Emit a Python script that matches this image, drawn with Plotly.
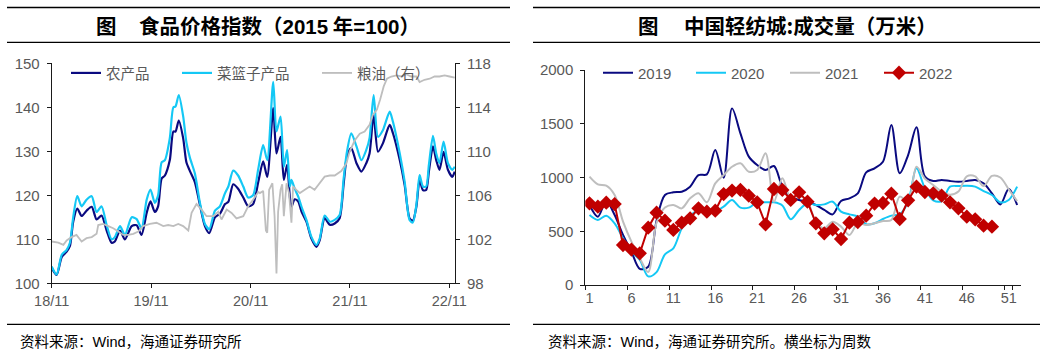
import plotly.graph_objects as go

W, H = 1057, 363

# ---------------- Left chart data: 食品价格指数 ----------------
food_dates = [
    "2018-11-01", "2018-11-19", "2018-12-08", "2018-12-26", "2019-01-07", "2019-01-19",
    "2019-02-03", "2019-02-19", "2019-03-09", "2019-03-28", "2019-04-15", "2019-05-03",
    "2019-05-22", "2019-06-09", "2019-06-21", "2019-07-10", "2019-07-28", "2019-08-22",
    "2019-09-09", "2019-09-27", "2019-10-16", "2019-10-30", "2019-11-15", "2019-11-27",
    "2019-12-10", "2019-12-22", "2020-01-09", "2020-01-22", "2020-01-30", "2020-02-11",
    "2020-02-27", "2020-03-10", "2020-03-23", "2020-04-10", "2020-04-28", "2020-05-17",
    "2020-06-02", "2020-06-23", "2020-07-11", "2020-07-30", "2020-08-11", "2020-08-29",
    "2020-09-16", "2020-10-05", "2020-10-23", "2020-11-10", "2020-11-29", "2020-12-17",
    "2021-01-01", "2021-01-23", "2021-02-04", "2021-02-19", "2021-03-03", "2021-03-15",
    "2021-03-25", "2021-03-31", "2021-04-12", "2021-04-25", "2021-05-07", "2021-05-25",
    "2021-06-12", "2021-07-01", "2021-07-13", "2021-07-31", "2021-08-19", "2021-09-06",
    "2021-09-24", "2021-10-09", "2021-10-21", "2021-11-06", "2021-11-25", "2021-12-13",
    "2021-12-31", "2022-01-12", "2022-01-27", "2022-02-12", "2022-03-02", "2022-03-27",
    "2022-04-08", "2022-05-03", "2022-05-21", "2022-06-08", "2022-06-20", "2022-07-03",
    "2022-07-15", "2022-07-27", "2022-08-08", "2022-08-18", "2022-09-02", "2022-09-14",
    "2022-09-26", "2022-10-11", "2022-10-27", "2022-11-12", "2022-11-21",
]
farm_products = [
    103.5, 101.9, 106.0, 107.2, 108.5, 114.0,
    117.0, 115.3, 116.5, 117.4, 114.5, 115.4,
    112.0, 109.2, 109.5, 112.0, 110.0, 113.0,
    113.2, 111.0, 116.0, 118.6, 116.2, 117.5,
    123.8, 124.5, 128.0, 134.5, 134.5, 137.0,
    133.0, 127.5, 125.5, 123.0, 118.0, 113.0,
    111.4, 115.0, 115.8, 118.0, 118.5, 122.5,
    121.5, 119.5, 117.5, 118.0, 123.0, 127.7,
    124.2, 139.8, 129.5, 133.3, 123.5, 126.9,
    119.7, 117.4, 119.1, 118.6, 116.3, 114.0,
    110.2, 108.3, 109.8, 114.8, 113.3, 113.6,
    114.8, 122.7, 128.8, 130.7, 127.3, 125.4,
    127.3, 129.5, 138.3, 129.9, 131.8, 136.0,
    134.1, 128.0, 122.3, 114.8, 114.2, 117.4,
    123.5, 121.2, 121.2, 125.4, 131.1, 128.0,
    125.8, 129.9, 125.8, 124.2, 125.4,
]
basket_products = [
    103.8, 102.0, 106.5, 107.6, 109.2, 115.0,
    119.8, 117.5, 119.0, 119.8, 116.2, 117.5,
    113.2, 110.0, 110.5, 113.0, 111.0, 115.0,
    114.6, 112.5, 119.0, 121.3, 118.3, 120.0,
    127.5, 128.0, 133.0, 140.0, 140.2, 142.8,
    138.0, 132.0, 128.5, 125.0, 118.5, 113.5,
    112.3, 116.5, 117.5, 120.5, 122.0, 125.6,
    124.5, 122.0, 119.5, 120.0, 126.0, 131.4,
    128.0, 145.8, 134.5, 137.9, 126.5, 130.3,
    122.0, 123.5, 121.5, 119.7, 117.4, 114.4,
    110.6, 108.7, 110.2, 115.4, 114.0, 114.4,
    115.5, 123.9, 129.9, 134.1, 131.1, 128.0,
    130.3, 133.0, 142.8, 133.3, 134.8, 139.0,
    136.7, 129.5, 123.1, 114.4, 113.8, 117.8,
    124.6, 122.0, 122.0, 126.9, 133.5, 129.5,
    127.3, 132.2, 127.3, 125.8, 126.5,
]
grain_dates = [
    "2018-11-01", "2018-11-25", "2018-12-14", "2018-12-26", "2019-01-13", "2019-01-31",
    "2019-02-19", "2019-03-09", "2019-03-28", "2019-04-15", "2019-04-21", "2019-05-09",
    "2019-05-28", "2019-06-15", "2019-07-04", "2019-07-22", "2019-08-09", "2019-08-28",
    "2019-09-15", "2019-10-03", "2019-10-28", "2019-11-21", "2019-12-16", "2020-01-03",
    "2020-01-22", "2020-02-09", "2020-02-27", "2020-03-17", "2020-03-29", "2020-04-16",
    "2020-05-05", "2020-05-23", "2020-06-17", "2020-07-05", "2020-07-17", "2020-08-05",
    "2020-08-23", "2020-09-10", "2020-10-05", "2020-10-23", "2020-11-10", "2020-11-29",
    "2020-12-05", "2020-12-17", "2020-12-27", "2021-01-01", "2021-01-08", "2021-01-20",
    "2021-01-28", "2021-02-04", "2021-02-10", "2021-02-19", "2021-02-25", "2021-03-03",
    "2021-03-13", "2021-03-22", "2021-03-31", "2021-04-06", "2021-04-18", "2021-05-01",
    "2021-05-19", "2021-06-06", "2021-06-24", "2021-07-13", "2021-07-31", "2021-08-19",
    "2021-09-06", "2021-09-30", "2021-10-19", "2021-10-31", "2021-11-19", "2021-12-07",
    "2021-12-25", "2022-01-12", "2022-01-24", "2022-02-08", "2022-02-20", "2022-03-05",
    "2022-03-17", "2022-04-02", "2022-04-21", "2022-05-09", "2022-05-27", "2022-06-14",
    "2022-07-03", "2022-07-15", "2022-08-02", "2022-08-21", "2022-09-08", "2022-09-26",
    "2022-10-15", "2022-11-02", "2022-11-21",
]
grain_oil = [
    101.8, 101.7, 101.5, 101.9, 102.2, 102.4,
    101.8, 102.1, 102.2, 102.5, 103.3, 103.4,
    103.2, 103.0, 102.7, 102.4, 102.4, 102.5,
    102.7, 103.2, 103.4, 103.5, 103.2, 103.3,
    103.2, 103.4, 103.2, 102.8, 104.4, 105.2,
    104.7, 104.1, 104.1, 104.5, 103.8, 104.7,
    104.4, 103.9, 104.1, 105.0, 105.6, 106.3,
    106.2, 106.4, 102.8, 102.6, 106.5, 107.1,
    104.1, 98.9, 104.5, 106.5, 107.0, 104.1,
    107.1, 106.2, 103.5, 106.8, 106.5, 106.2,
    106.5, 106.8, 106.5, 107.1, 107.7, 107.8,
    107.8, 108.2, 108.9, 110.0, 111.0, 111.6,
    111.8, 112.4, 113.3, 113.8, 114.7, 115.9,
    116.6, 116.8, 116.9, 116.8, 117.0, 116.8,
    116.8, 116.3, 116.5, 116.6, 116.8, 116.8,
    116.9, 116.8, 116.7,
]
left_tickvals = ["2018-11-01", "2019-11-01", "2020-11-01", "2021-11-01", "2022-11-01"]
left_ticktext = ["18/11", "19/11", "20/11", "21/11", "22/11"]

# ---------------- Right chart data: 中国轻纺城 成交量 ----------------
weeks = list(range(1, 53))
vol_2019 = [744, 636, 781, 651, 465, 310, 150, 170, 600, 837, 862, 868, 915, 1023, 1029, 1256,
            998, 1643, 1411, 1194, 1116, 1070, 1107, 915, 822, 791, 775, 744, 698, 657, 781, 806,
            853, 1048, 1085, 1147, 1488, 1039, 1209, 1467, 1010, 967, 977, 967, 961, 967, 977,
            946, 853, 750, 893, 744]
vol_2020 = [651, 605, 645, 574, 434, 310, 233, 80, 120, 285, 341, 527, 645, 690, 688, 688,
            729, 791, 720, 720, 769, 769, 769, 740, 611, 698, 760, 744, 750, 775, 682, 657,
            636, 565, 574, 614, 645, 657, 775, 1085, 900, 788, 781, 915, 921, 924, 915,
            874, 837, 769, 791, 915]
vol_2021 = [1008, 936, 924, 837, 589, 403, 250, 120, 580, 720, 745, 713, 806, 853, 769, 946,
            1023, 1100, 1132, 1054, 1070, 1225, 775, 992, 806, 830, 775, 589, 527, 589, 543, 465,
            574, 558, 574, 595, 605, 822, 775, 1101, 990, 930, 868, 840, 870, 1010, 1010,
            920, 1015, 1000, 890, 780]
vol_2022 = [760, 729, 766, 753, 372, 330, 295, 533, 673, 598, 512, 580, 620, 713, 682, 691,
            846, 878, 884, 831, 769, 564, 893, 884, 791, 862, 775, 574, 481, 518, 428, 580,
            586, 645, 757, 763, 850, 614, 788, 915, 865, 853, 831, 769, 713, 636, 611, 552, 543]
right_tickvals = [1, 6, 11, 16, 21, 26, 31, 36, 41, 46, 51]

# ---------------- styling ----------------
NAVY = "#0A0A80"
CYAN = "#14C8F5"
GREY = "#BEBEBE"
RED = "#C00000"
TXT = "#595959"
AX = "#1a1a1a"
NUMFONT = "Liberation Sans, Arial, sans-serif"
CJK = "Noto Sans CJK SC, sans-serif"


def px_x(p):
    return p / W


def px_y(p):
    return 1 - p / H


fig = go.Figure()

fig.add_trace(go.Scatter(x=food_dates, y=farm_products, name="农产品", mode="lines",
                         line=dict(color=NAVY, width=2.2, shape="spline", smoothing=0.7),
                         xaxis="x", yaxis="y", legend="legend"))
fig.add_trace(go.Scatter(x=food_dates, y=basket_products, name="菜篮子产品", mode="lines",
                         line=dict(color=CYAN, width=2.2, shape="spline", smoothing=0.7),
                         xaxis="x", yaxis="y", legend="legend2"))
fig.add_trace(go.Scatter(x=grain_dates, y=grain_oil, name="粮油（右）", mode="lines",
                         line=dict(color=GREY, width=1.8),
                         xaxis="x", yaxis="y2", legend="legend3"))

wk = [str(w) for w in weeks]
fig.add_trace(go.Scatter(x=wk, y=vol_2019, name="2019", mode="lines",
                         line=dict(color=NAVY, width=2, shape="spline", smoothing=0.9),
                         xaxis="x2", yaxis="y3", legend="legend4"))
fig.add_trace(go.Scatter(x=wk, y=vol_2020, name="2020", mode="lines",
                         line=dict(color=CYAN, width=2, shape="spline", smoothing=0.9),
                         xaxis="x2", yaxis="y3", legend="legend5"))
fig.add_trace(go.Scatter(x=wk, y=vol_2021, name="2021", mode="lines",
                         line=dict(color=GREY, width=2, shape="spline", smoothing=0.9),
                         xaxis="x2", yaxis="y3", legend="legend6"))
fig.add_trace(go.Scatter(x=wk[:len(vol_2022)], y=vol_2022, name="2022", mode="lines+markers",
                         line=dict(color=RED, width=2),
                         marker=dict(symbol="diamond", size=11, color=RED),
                         xaxis="x2", yaxis="y3", legend="legend7"))

tickfont = dict(family=NUMFONT, size=15, color=TXT)
xtickfont = dict(family=NUMFONT, size=14.5, color=TXT)
common_axis = dict(showline=True, linecolor=AX, linewidth=1, ticks="outside", ticklen=4,
                   tickcolor=AX, tickwidth=1, showgrid=False, zeroline=False,
                   automargin=False)


def legend_at(text_x, font):
    return dict(orientation="h", x=px_x(text_x - 47), y=px_y(73), xanchor="left",
                yanchor="middle", font=font, bgcolor="rgba(0,0,0,0)",
                itemclick=False, itemdoubleclick=False)


cjk_leg = dict(family=CJK, size=14.5, color=TXT)
num_leg = dict(family=NUMFONT, size=15, color=TXT)

fig.update_layout(
    width=W, height=H,
    margin=dict(l=0, r=0, t=0, b=0, autoexpand=False),
    paper_bgcolor="white", plot_bgcolor="white",
    hovermode=False,
    xaxis=dict(domain=[px_x(51.7), px_x(455)], anchor="y", type="date",
               range=["2018-11-01", "2022-11-22"], tickangle=0,
               tickmode="array", tickvals=left_tickvals, ticktext=left_ticktext,
               tickfont=xtickfont, **common_axis),
    yaxis=dict(domain=[px_y(283.3), px_y(63.3)], anchor="x", range=[100, 150], dtick=10,
               tick0=100, ticklabelstandoff=4, tickfont=tickfont, **common_axis),
    yaxis2=dict(overlaying="y", side="right", anchor="x", range=[98, 118], dtick=4, tick0=98,
                ticklabelstandoff=4, tickfont=tickfont, **common_axis),
    xaxis2=dict(domain=[px_x(585.3), px_x(1021.3)], anchor="y3", type="category",
                range=[-0.5, 51.5], tickmode="array", tickvals=[str(v) for v in right_tickvals],
                ticktext=[str(v) for v in right_tickvals], tickson="boundaries", tickangle=0,
                tickfont=xtickfont, **common_axis),
    yaxis3=dict(domain=[px_y(285), px_y(70)], anchor="x2", range=[0, 2000], dtick=500,
                ticklabelstandoff=4, tickfont=tickfont, **common_axis),
    legend=legend_at(113, cjk_leg),
    legend2=legend_at(224, cjk_leg),
    legend3=legend_at(364, cjk_leg),
    legend4=legend_at(645, num_leg),
    legend5=legend_at(738, num_leg),
    legend6=legend_at(832, num_leg),
    legend7=legend_at(926, num_leg),
    showlegend=True,
)

# title rules and footer rules
shapes = []
for x0, x1 in [(7, 510), (533, 1040)]:
    for yy in (7.5, 42.3, 324.3):
        shapes.append(dict(type="line", xref="paper", yref="paper",
                           x0=px_x(x0), x1=px_x(x1), y0=px_y(yy), y1=px_y(yy),
                           line=dict(color="black", width=1.3)))
fig.update_layout(shapes=shapes)

title_font = dict(family="Noto Sans CJK SC, sans-serif", size=20.5, color="black")
annotations = [
    dict(text="<b>图</b>", x=px_x(106), y=px_y(25), xanchor="center", yanchor="middle"),
    dict(text="<b>食品价格指数（<span style='font-family:Liberation Sans'>2015</span> 年"
              "<span style='font-family:Liberation Sans'>=100</span>）</b>",
         x=px_x(137), y=px_y(25), xanchor="left", yanchor="middle"),
    dict(text="<b>图</b>", x=px_x(648.5), y=px_y(25), xanchor="center", yanchor="middle"),
    dict(text="<b>中国轻纺城:成交量（万米）</b>", x=px_x(682), y=px_y(25),
         xanchor="left", yanchor="middle"),
]
for a in annotations:
    a.update(xref="paper", yref="paper", showarrow=False, font=title_font)

src_font = dict(family=CJK, size=14.5, color="black")
annotations += [
    dict(text="资料来源：<span style='font-family:Liberation Sans'>Wind</span>，海通证券研究所",
         x=px_x(18), y=px_y(340), xanchor="left", yanchor="middle", xref="paper", yref="paper",
         showarrow=False, font=src_font),
    dict(text="资料来源：<span style='font-family:Liberation Sans'>Wind</span>，海通证券研究所。横坐标为周数",
         x=px_x(546), y=px_y(340), xanchor="left", yanchor="middle", xref="paper", yref="paper",
         showarrow=False, font=src_font),
]
fig.update_layout(annotations=annotations)

fig.write_html("out.html", config={"displayModeBar": False, "staticPlot": True},
               post_script="document.body.style.margin='0';document.body.style.overflow='hidden';")
